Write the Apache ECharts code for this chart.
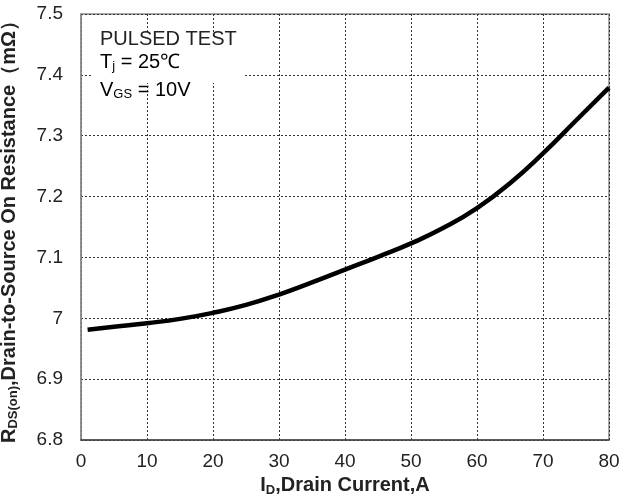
<!DOCTYPE html>
<html><head><meta charset="utf-8">
<script src="https://cdn.jsdelivr.net/npm/echarts@6/dist/echarts.min.js"></script>
<style>html,body{margin:0;padding:0;background:#fff}#c{width:620px;height:494px}</style>
</head><body><div id="c"></div>
<script>
const currentA = [1, 5, 10, 15, 20, 25, 30, 35, 40, 45, 50, 55, 60, 65, 70, 75, 80];
const resistance = [6.981, 6.986, 6.992, 6.999, 7.009, 7.022, 7.039, 7.059, 7.080, 7.101, 7.123, 7.149, 7.181, 7.222, 7.271, 7.325, 7.379];
const xTicks = [0, 10, 20, 30, 40, 50, 60, 70, 80];
const yTicks = [6.8, 6.9, 7.0, 7.1, 7.2, 7.3, 7.4, 7.5];

const FONT = '"Liberation Sans", Arial, sans-serif';
const chart = echarts.init(document.getElementById('c'), null, {renderer: 'canvas'});
const data = currentA.map((x, i) => [x, resistance[i]]);
const sub = {fontSize: 13, fontFamily: FONT, color: '#222', verticalAlign: 'bottom', padding: [9, 0, 0, 0]};
chart.setOption({
  animation: false,
  backgroundColor: '#fff',
  grid: {left: 81, right: 11, top: 14, bottom: 54, show: true, borderColor: '#8a8a8a', borderWidth: 1.5,
         containLabel: false, outerBoundsMode: 'none'},
  xAxis: {
    type: 'value', min: xTicks[0], max: xTicks[xTicks.length - 1], interval: 10,
    axisLine: {show: true, lineStyle: {color: '#444', width: 1.5}},
    axisTick: {show: false},
    axisLabel: {color: '#222', fontSize: 19, fontFamily: FONT, margin: 12},
    splitLine: {show: true, lineStyle: {color: '#333', width: 1, type: [2, 2]}},
    name: '{b|I}{s|D}{b|,Drain Current,A}',
    nameLocation: 'middle', nameGap: 31,
    nameTextStyle: {
      rich: {
        b: {fontSize: 20, fontWeight: 'bold', fontFamily: FONT, color: '#222'},
        s: Object.assign({}, sub, {fontWeight: 'bold'})
      }
    }
  },
  yAxis: {
    type: 'value', min: yTicks[0], max: yTicks[yTicks.length - 1], interval: 0.1,
    axisLine: {show: true, lineStyle: {color: '#8a8a8a', width: 1.5}},
    axisTick: {show: false},
    axisLabel: {color: '#222', fontSize: 19, fontFamily: FONT, margin: 18,
      formatter: v => String(+v.toFixed(1))},
    splitLine: {show: true, lineStyle: {color: '#333', width: 1, type: [2, 2]}},
    name: '{b|R}{s|DS(on)}{b|,Drain-to-Source On Resistance（mΩ）}',
    nameLocation: 'middle', nameGap: 61, nameRotate: 90,
    nameTextStyle: {
      rich: {
        b: {fontSize: 20, fontWeight: 'bold', fontFamily: FONT, color: '#222'},
        s: Object.assign({}, sub, {fontWeight: 'bold'})
      }
    }
  },
  graphic: [
    {type: 'rect', left: 92, top: 33, z: 50, shape: {width: 153, height: 50}, style: {fill: '#fff'}},
    {type: 'text', left: 100, top: 29, z: 60, style: {text: 'PULSED TEST', font: '20px ' + FONT, fill: '#222'}},
    {type: 'text', left: 100, top: 52, z: 60, style: {
      text: '{a|T}{s|j}{a| = 25℃}',
      rich: {a: {fontSize: 20, fontFamily: FONT, color: '#222'}, s: sub}}},
    {type: 'text', left: 100, top: 80, z: 60, style: {
      text: '{a|V}{s|GS}{a| = 10V}',
      rich: {a: {fontSize: 20, fontFamily: FONT, color: '#222'}, s: sub}}}
  ],
  series: [{
    type: 'line', data: data, smooth: 0.5, showSymbol: false,
    lineStyle: {color: '#000', width: 4.5}, z: 10
  }]
});
</script></body></html>
